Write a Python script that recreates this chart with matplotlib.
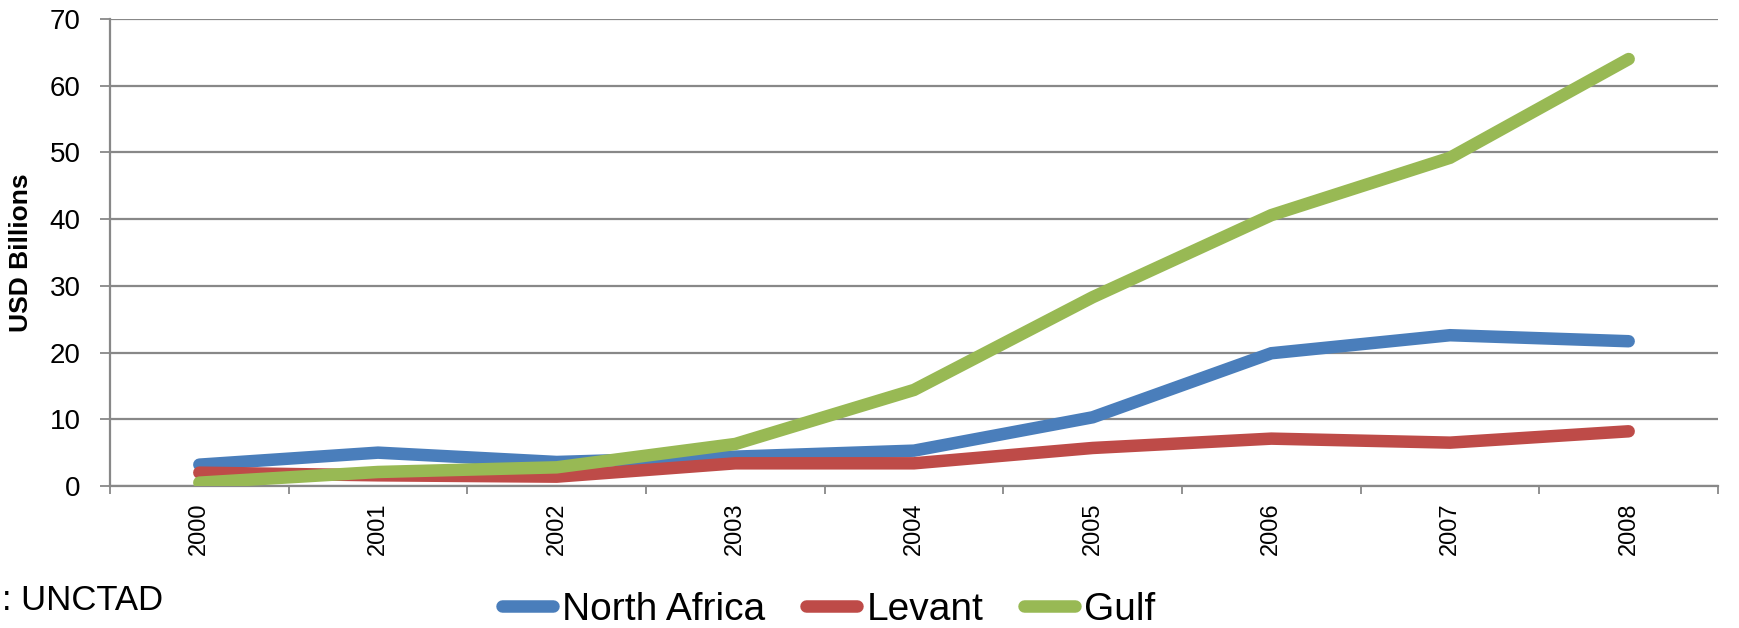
import matplotlib
matplotlib.use("Agg")
import matplotlib.pyplot as plt
from matplotlib.ticker import FixedLocator

years = ["2000", "2001", "2002", "2003", "2004", "2005", "2006", "2007", "2008"]
north_africa = [3.2, 5.0, 3.6, 4.4, 5.3, 10.3, 19.9, 22.6, 21.7]
levant = [2.0, 1.6, 1.4, 3.4, 3.4, 5.7, 7.1, 6.5, 8.2]
gulf = [0.5, 2.1, 2.8, 6.3, 14.4, 28.3, 40.6, 49.2, 64.0]
series_names = ["North Africa", "Levant", "Gulf"]
y_ticks = [0, 10, 20, 30, 40, 50, 60, 70]

colors = ["#4A7EBB", "#BE4B48", "#98B954"]
grid_gray = "#888888"

plt.rcParams["font.family"] = ["Liberation Sans", "DejaVu Sans"]

W, H, DPI = 1740, 628, 100
fig = plt.figure(figsize=(W / DPI, H / DPI), dpi=DPI)
left, right, top, bottom = 110, 1718, 19, 486
ax = fig.add_axes([left / W, 1 - bottom / H, (right - left) / W, (bottom - top) / H])

x = list(range(len(years)))
for vals, name, c in zip([north_africa, levant, gulf], series_names, colors):
    ax.plot(x, vals, color=c, lw=9, solid_capstyle="round",
            solid_joinstyle="miter", label=name, zorder=3)

ax.set_xlim(-0.5, len(years) - 0.5)
ax.set_ylim(0, 70)
ax.set_yticks(y_ticks)
ax.set_yticklabels([str(v) for v in y_ticks])
ax.yaxis.grid(True, color=grid_gray, lw=1.6)
ax.set_axisbelow(True)

ax.set_xticks(x)
ax.set_xticklabels(years, rotation=90, fontsize=17, va="top")
ax.xaxis.set_minor_locator(FixedLocator([i - 0.5 for i in range(len(years) + 1)]))
ax.tick_params(axis="x", which="major", length=0, pad=12)
ax.tick_params(axis="x", which="minor", length=6, width=1.3, color=grid_gray, direction="out")
ax.tick_params(axis="y", length=7, width=1.3, color=grid_gray, direction="out",
               labelsize=20, pad=14)

for s in ["top", "right"]:
    ax.spines[s].set_visible(False)
for s in ["left", "bottom"]:
    ax.spines[s].set_color(grid_gray)
    ax.spines[s].set_linewidth(1.6)

ax.set_ylabel("USD Billions", fontsize=19, fontweight="bold")
ax.yaxis.set_label_coords(-0.0479, 0.5)

fig.legend(loc="center left", bbox_to_anchor=(502 / W, 1 - 610 / H), ncol=3,
           frameon=False, fontsize=28, handlelength=1.3, handletextpad=0.25,
           columnspacing=1.05, borderpad=0, borderaxespad=0)

fig.text(2 / W, 1 - 601 / H, ": UNCTAD", fontsize=25, ha="left", va="center")

fig.savefig("out.png", dpi=DPI)
